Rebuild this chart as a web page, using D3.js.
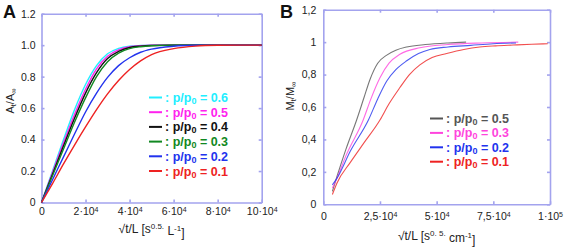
<!DOCTYPE html>
<html>
<head>
<meta charset="utf-8">
<script src="https://cdn.jsdelivr.net/npm/d3@7"></script>
<style>
    body { margin: 0; background: #fff; }
    svg { font-family: "Liberation Sans", Arial, sans-serif; }
    .axis path, .axis line { stroke: #a3a3ee; stroke-width: 1.6; }
    .axis text { fill: #222; font-size: 10.5px; }
</style>
</head>
<body>
<div id="chart"></div>
<script>
// panel A: simulated uptake curves on one time grid
const aTimes = [0, 5000, 10000, 15000, 20000, 25000, 30000, 35000, 40000, 45000, 50000, 60000, 70000, 80000, 90000, 100000];
const aP06 = [0, 0.20, 0.40, 0.59, 0.75, 0.87, 0.945, 0.98, 0.994, 0.998, 1, 1, 1, 1, 1, 1];
const aP05 = [0, 0.19, 0.38, 0.56, 0.72, 0.85, 0.93, 0.97, 0.99, 0.996, 0.999, 1, 1, 1, 1, 1];
const aP04 = [0, 0.18, 0.36, 0.535, 0.695, 0.825, 0.915, 0.96, 0.985, 0.994, 0.998, 1, 1, 1, 1, 1];
const aP03 = [0, 0.17, 0.34, 0.51, 0.665, 0.80, 0.895, 0.95, 0.978, 0.99, 0.996, 1, 1, 1, 1, 1];
const aP02 = [0, 0.145, 0.29, 0.435, 0.575, 0.695, 0.795, 0.87, 0.92, 0.955, 0.975, 0.993, 0.999, 1, 1, 1];
const aP01 = [0, 0.12, 0.245, 0.365, 0.48, 0.59, 0.69, 0.775, 0.845, 0.90, 0.94, 0.978, 0.994, 0.999, 1, 1];

// panel B: measured uptake, each run has its own time points
const bP05x = [4000, 6000, 10000, 14700, 18000, 20600, 24000, 28000, 32000, 36800, 45000, 55000, 63000];
const bP05y = [0.08, 0.17, 0.34, 0.52, 0.66, 0.77, 0.87, 0.92, 0.95, 0.97, 0.985, 0.995, 1.0];
const bP03x = [4000, 6000, 10000, 17600, 21000, 25000, 29000, 33800, 42600, 55000, 70000, 86000];
const bP03y = [0.10, 0.16, 0.30, 0.52, 0.65, 0.78, 0.87, 0.925, 0.965, 0.985, 0.995, 1.0];
const bP02x = [4000, 6000, 12000, 19900, 24000, 28000, 32000, 36800, 42000, 47000, 55000, 65000, 75000, 85000];
const bP02y = [0.12, 0.16, 0.33, 0.52, 0.65, 0.76, 0.83, 0.885, 0.93, 0.955, 0.97, 0.98, 0.99, 0.995];
const bP01x = [4000, 6000, 12000, 18000, 25000, 29000, 33800, 38000, 42600, 48000, 54400, 62000, 69000, 76000, 83700, 92000, 99000];
const bP01y = [0.06, 0.13, 0.26, 0.38, 0.52, 0.62, 0.72, 0.80, 0.86, 0.905, 0.93, 0.955, 0.97, 0.977, 0.982, 0.987, 0.99];

// tick values and labels ([base, superscript])
const aXTicks = [0, 20000, 40000, 60000, 80000, 100000];
const aXLabels = [["0", ""], ["2·10", "4"], ["4·10", "4"], ["6·10", "4"], ["8·10", "4"], ["10·10", "4"]];
const aYTicks = [0, 0.2, 0.4, 0.6, 0.8, 1.0, 1.2];
const aYLabels = ["0", "0.2", "0.4", "0.6", "0.8", "1.0", "1.2"];
const bXTicks = [0, 25000, 50000, 75000, 100000];
const bXLabels = [["0", ""], ["2,5·10", "4"], ["5·10", "4"], ["7,5·10", "4"], ["1·10", "5"]];
const bYTicks = [0, 0.2, 0.4, 0.6, 0.8, 1.0, 1.2];
const bYLabels = ["0", "0,2", "0,4", "0,6", "0,8", "1", "1,2"];

const aLegend = ["0.6", "0.5", "0.4", "0.3", "0.2", "0.1"];
const bLegend = ["0.5", "0.3", "0.2", "0.1"];

const aColors = ["#22eeff", "#ff22ee", "#111111", "#118822", "#2233ee", "#ee2222"];
const bColors = ["#555555", "#ff44dd", "#2233ee", "#ee2222"];

const zip = (xs, ys) => xs.map((x, i) => ({ x: x, y: ys[i] }));

const svg = d3.select("#chart").append("svg").attr("width", 567).attr("height", 247);

class UptakePanel {
    constructor(_config, _series) {
        this.config = _config;
        this.series = _series;
        this.initVis();
    }

    initVis() {
        let vis = this;
        const c = vis.config;

        vis.xScale = d3.scaleLinear().domain([0, 100000]).range([c.left, c.right]);
        vis.yScale = d3.scaleLinear().domain([0, 1.2]).range([c.bottom, c.top]);

        vis.g = svg.append("g");

        // mirrored ticks on top and right, no labels
        vis.g.append("g").attr("class", "axis").attr("transform", `translate(0,${c.top})`)
            .call(d3.axisTop(vis.xScale).tickValues(c.xTicks).tickSizeInner(-3).tickSizeOuter(0).tickFormat(""));
        vis.g.append("g").attr("class", "axis").attr("transform", `translate(${c.right},0)`)
            .call(d3.axisRight(vis.yScale).tickValues(c.yTicks).tickSizeInner(-3).tickSizeOuter(0).tickFormat(""));

        const xAxis = vis.g.append("g").attr("class", "axis").attr("transform", `translate(0,${c.bottom})`)
            .call(d3.axisBottom(vis.xScale).tickValues(c.xTicks).tickSizeInner(-3).tickSizeOuter(0).tickPadding(c.xPad).tickFormat(""));
        xAxis.selectAll(".tick text").each(function (d, i) {
            const t = d3.select(this);
            t.append("tspan").text(c.xLabels[i][0]);
            t.append("tspan").attr("font-size", "7px").attr("dy", "-0.45em").text(c.xLabels[i][1]);
        });

        vis.g.append("g").attr("class", "axis").attr("transform", `translate(${c.left},0)`)
            .call(d3.axisLeft(vis.yScale).tickValues(c.yTicks).tickSizeInner(-3).tickSizeOuter(0).tickPadding(c.yPad)
                .tickFormat((d, i) => c.yLabels[i]));

        const line = d3.line()
            .x((d) => vis.xScale(d.x))
            .y((d) => vis.yScale(d.y))
            .curve(d3.curveMonotoneX);

        vis.g.selectAll(".curve")
            .data(vis.series)
            .join("path")
            .attr("class", "curve")
            .attr("fill", "none")
            .attr("stroke", (d) => d.color)
            .attr("stroke-width", c.lineWidth)
            .attr("stroke-opacity", c.lineOpacity)
            .attr("d", (d) => line(d.values));

        // legend
        const leg = vis.g.selectAll(".leg")
            .data(vis.series)
            .join("g")
            .attr("class", "leg")
            .attr("transform", (d, i) => `translate(${c.legX},${c.legY + i * c.legStep})`);
        leg.append("line")
            .attr("x1", 0).attr("x2", 13).attr("y1", 0).attr("y2", 0)
            .attr("stroke", (d) => d.color).attr("stroke-width", 2);
        const lt = leg.append("text")
            .attr("x", 16).attr("y", 4.5)
            .attr("fill", (d) => d.color)
            .attr("font-size", "12.5px").attr("font-weight", "bold");
        lt.append("tspan").text(": p/p");
        lt.append("tspan").attr("font-size", "9px").attr("dy", "2").text("0");
        lt.append("tspan").attr("dy", "-2").text((d) => " = " + d.label);

        // panel letter
        vis.g.append("text").attr("x", c.letterX).attr("y", 18)
            .attr("font-size", "18px").attr("font-weight", "bold").attr("fill", "#111").text(c.letter);

        // x title
        const xt = vis.g.append("text")
            .attr("x", (c.left + c.right) / 2).attr("y", c.xTitleY)
            .attr("text-anchor", "middle").attr("font-size", "12px").attr("fill", "#222");
        xt.append("tspan").text("√t/L [s");
        xt.append("tspan").attr("font-size", "8px").attr("dy", "-0.5em").text(c.xSup);
        xt.append("tspan").attr("dy", "0.5em").text(" " + c.xUnit);
        xt.append("tspan").attr("font-size", "8px").attr("dy", "-0.5em").text("-1");
        xt.append("tspan").attr("dy", "0.5em").text("]");

        // y title
        const yt = vis.g.append("text")
            .attr("transform", `translate(${c.yTitleX},${c.yTitleY}) rotate(-90)`)
            .attr("text-anchor", "middle").attr("font-size", "11px").attr("fill", "#222");
        yt.append("tspan").text(c.yVar);
        yt.append("tspan").attr("font-size", "7.5px").attr("dy", "2").text("t");
        yt.append("tspan").attr("dy", "-2").text("/" + c.yVar);
        yt.append("tspan").attr("font-size", "7.5px").attr("dy", "2").text("∞");
    }
}

const aValues = [aP06, aP05, aP04, aP03, aP02, aP01];
new UptakePanel({
    left: 41.5, right: 261.7, top: 13.7, bottom: 202.5,
    xTicks: aXTicks, xLabels: aXLabels, yTicks: aYTicks, yLabels: aYLabels,
    xPad: 5, yPad: 6, lineWidth: 1.4, lineOpacity: 1,
    legX: 149, legY: 97.5, legStep: 14.7,
    letter: "A", letterX: 3, xTitleY: 233, xSup: "0.5.", xUnit: "L",
    yTitleX: 14, yTitleY: 101, yVar: "A"
}, aLegend.map((label, i) => ({ label: label, color: aColors[i], values: zip(aTimes, aValues[i]) })));

const bX = [bP05x, bP03x, bP02x, bP01x];
const bY = [bP05y, bP03y, bP02y, bP01y];
new UptakePanel({
    left: 323.3, right: 550, top: 9.7, bottom: 204.3,
    xTicks: bXTicks, xLabels: bXLabels, yTicks: bYTicks, yLabels: bYLabels,
    xPad: 8, yPad: 7, lineWidth: 1.1, lineOpacity: 0.8,
    legX: 430, legY: 118.5, legStep: 14.4,
    letter: "B", letterX: 280, xTitleY: 240, xSup: "0. 5.", xUnit: "cm",
    yTitleX: 294, yTitleY: 96, yVar: "M"
}, bLegend.map((label, i) => ({ label: label, color: bColors[i], values: zip(bX[i], bY[i]) })));
</script>
</body>
</html>
